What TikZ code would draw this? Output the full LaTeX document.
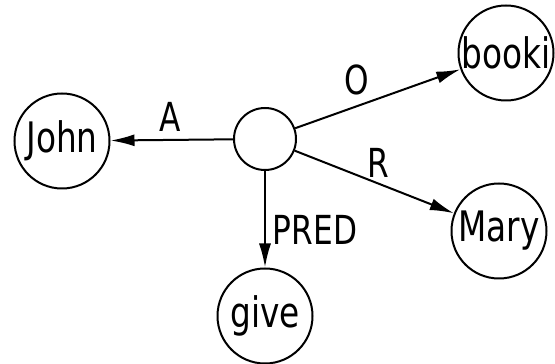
\documentclass[tikz,border=0pt]{standalone}
\usepackage{fontspec}
\usepackage{tikz}
\usetikzlibrary{arrows,arrows.meta}
\newfontfamily\hand[FakeStretch=0.78]{DejaVu Sans}

\begin{document}
\begin{tikzpicture}[x=1pt,y=1pt,line width=2pt,>={Latex[length=24pt,width=12pt]},
		word/.style={circle,draw,inner sep=0pt,minimum size=95pt,font=\hand\fontsize{42}{42}\selectfont},
		rel/.style={inner sep=0pt,font=\hand\fontsize{40}{40}\selectfont}]
				\useasboundingbox (0,0) rectangle (555,364);
				% 结点
				\node[word,minimum size=62pt](V) at (265,225) {};
				\node[word](John) at (62,223) {John};
				\node[word](booki) at (506,311) {booki};
				\node[word](Mary) at (499,133) {Mary};
				\node[word](give) at (265,48) {give};
				% 边
				\draw[->] (V) -- (John);\draw[->] (V) -- (booki);
				\draw[->] (V) -- (Mary);\draw[->] (V) -- (give);
				\node[rel](lA) at (170,247) {A};
				\node[rel](lO) at (357,284) {O};
				\node[rel](lR) at (378,201) {R};
				\node[rel](lPRED) at (315,134) {PRED};
			\end{tikzpicture}
\end{document}
